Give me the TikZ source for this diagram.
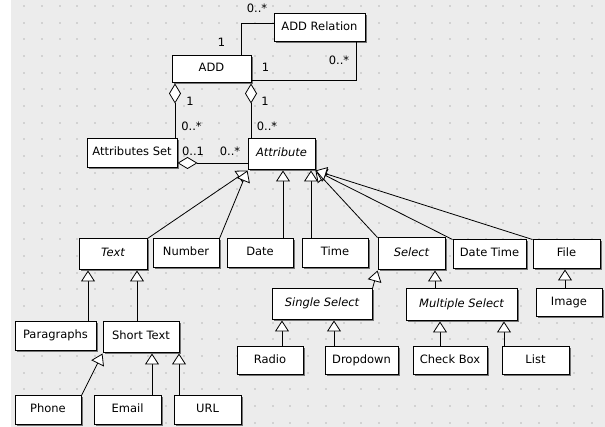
\documentclass[tikz,border=0pt]{standalone}
\usepackage{fontspec}
\setmainfont{DejaVu Sans}
\usetikzlibrary{arrows.meta,shadows}
\definecolor{canvas}{HTML}{ECECEC}
\definecolor{griddot}{HTML}{D2D2D2}

\begin{document}
\begin{tikzpicture}[x=1pt,y=-1pt,font=\fontsize{11.5}{13}\selectfont,
    cls/.style={draw, fill=white, line width=1pt, inner sep=0pt, text height=8.5pt, text depth=3.5pt,
        drop shadow={shadow xshift=1.5pt, shadow yshift=-1.5pt, opacity=1, fill=black!55}},
    abs/.style={cls, font=\fontsize{11.5}{13}\selectfont\itshape},
    gen/.style={line width=.8pt, -{Triangle[length=11pt, width=14pt, fill=white, line width=.8pt]}},
    agg/.style={line width=.8pt, {Diamond[length=20pt, width=12pt, fill=white, line width=.8pt]}-},
    assoc/.style={line width=.8pt},
    mult/.style={inner sep=0pt}]
            \useasboundingbox (0,0) rectangle (605,427);
            \fill[canvas] (11,0) rectangle (605,427);
            \foreach \i in {0,...,32}
                \foreach \j in {0,...,25}
                    \fill[griddot] ({24+17.75*\i-1},{6+16.67*\j-1}) rectangle +(2,2);
            \node[cls, minimum width=91, minimum height=28] (rel) at (319.5,28) {ADD Relation};
            \node[cls, minimum width=79, minimum height=27] (add) at (211.5,69.5) {ADD};
            \node[cls, minimum width=90, minimum height=29] (aset) at (132,153.5) {Attributes Set};
            \node[abs, minimum width=67, minimum height=31] (attr) at (281.5,154.5) {Attribute};
            \node[abs, minimum width=68, minimum height=31] (text) at (113,254.5) {Text};
            \node[cls, minimum width=66, minimum height=29] (number) at (186,253.5) {Number};
            \node[cls, minimum width=66, minimum height=29] (date) at (260,253.5) {Date};
            \node[cls, minimum width=66, minimum height=29] (time) at (335,253.5) {Time};
            \node[abs, minimum width=67, minimum height=32] (select) at (411.5,254) {Select};
            \node[cls, minimum width=73, minimum height=29] (datetime) at (489.5,254.5) {Date Time};
            \node[cls, minimum width=67, minimum height=29] (file) at (566.5,254.5) {File};
            \node[cls, minimum width=81, minimum height=29] (para) at (55.5,336.5) {Paragraphs};
            \node[cls, minimum width=76, minimum height=31] (short) at (141,337.5) {Short Text};
            \node[abs, minimum width=100, minimum height=31] (single) at (322,304.5) {Single Select};
            \node[abs, minimum width=111, minimum height=32] (multi) at (461.5,305) {Multiple Select};
            \node[cls, minimum width=66, minimum height=28] (image) at (569,303) {Image};
            \node[cls, minimum width=66, minimum height=28] (radio) at (270,361) {Radio};
            \node[cls, minimum width=73, minimum height=28] (dropdown) at (361.5,361) {Dropdown};
            \node[cls, minimum width=74, minimum height=28] (checkbox) at (450,361) {Check Box};
            \node[cls, minimum width=67, minimum height=28] (list) at (535.5,361) {List};
            \node[cls, minimum width=66, minimum height=28] (phone) at (48,410) {Phone};
            \node[cls, minimum width=67, minimum height=28] (email) at (127.5,410) {Email};
            \node[cls, minimum width=67, minimum height=28] (url) at (207.5,410) {URL};

            \draw[assoc] ([xshift=29.5]add.north) |- ([yshift=5]rel.west);
            \draw[assoc] ([yshift=-10.5]add.east) -| ([xshift=36.5]rel.south);
            \node[mult] (m1) at (257,8) {0..*};
            \node[mult] (m2) at (221.5,42.5) {1};
            \node[mult] (m3) at (265.5,67.5) {1};
            \node[mult] (m4) at (339,60) {0..*};

            \draw[agg] ([xshift=-36.5]add.south) -- ([xshift=43]aset.north);
            \draw[agg] ([xshift=39.5]add.south) -- ([xshift=-30.5]attr.north);
            \draw[agg] ([yshift=-9.5]aset.east) -- ([yshift=-9.5]aset.east -| attr.west);
            \node[mult] (m5) at (190,101.5) {1};
            \node[mult] (m6) at (265,101.5) {1};
            \node[mult] (m7) at (191.5,126.5) {0..*};
            \node[mult] (m8) at (267,126.5) {0..*};
            \node[mult] (m9) at (193,151.5) {0..1};
            \node[mult] (m10) at (230,151.5) {0..*};

            \draw[gen] (text.north east) -- (attr.south west);
            \draw[gen] (number.north east) -- (attr.south west);
            \draw[gen] ([xshift=23]date.north) -- ([xshift=23]date.north |- attr.south);
            \draw[gen] ([xshift=-24]time.north) -- ([xshift=-24]time.north |- attr.south);
            \draw[gen] (select.north west) -- (attr.south east);
            \draw[gen] (datetime.north west) -- (attr.south east);
            \draw[gen] (file.north west) -- (attr.south east);

            \draw[gen] ([xshift=32.5]para.north) -- ([xshift=32.5]para.north |- text.south);
            \draw[gen] ([xshift=-4]short.north) -- ([xshift=-4]short.north |- text.south);
            \draw[gen] (phone.north east) -- (short.south west);
            \draw[gen] ([xshift=24.5]email.north) -- ([xshift=24.5]email.north |- short.south);
            \draw[gen] ([xshift=-28.5]url.north) -- ([xshift=-28.5]url.north |- short.south);

            \draw[gen] (single.north east) -- (select.south west);
            \draw[gen] ([xshift=-26.5]multi.north) -- ([xshift=-26.5]multi.north |- select.south);
            \draw[gen] ([xshift=-4]image.north) -- ([xshift=-4]image.north |- file.south);
            \draw[gen] ([xshift=12]radio.north) -- ([xshift=12]radio.north |- single.south);
            \draw[gen] ([xshift=-27.5]dropdown.north) -- ([xshift=-27.5]dropdown.north |- single.south);
            \draw[gen] ([xshift=-10]checkbox.north) -- ([xshift=-10]checkbox.north |- multi.south);
            \draw[gen] ([xshift=-31.5]list.north) -- ([xshift=-31.5]list.north |- multi.south);
        \end{tikzpicture}
\end{document}
